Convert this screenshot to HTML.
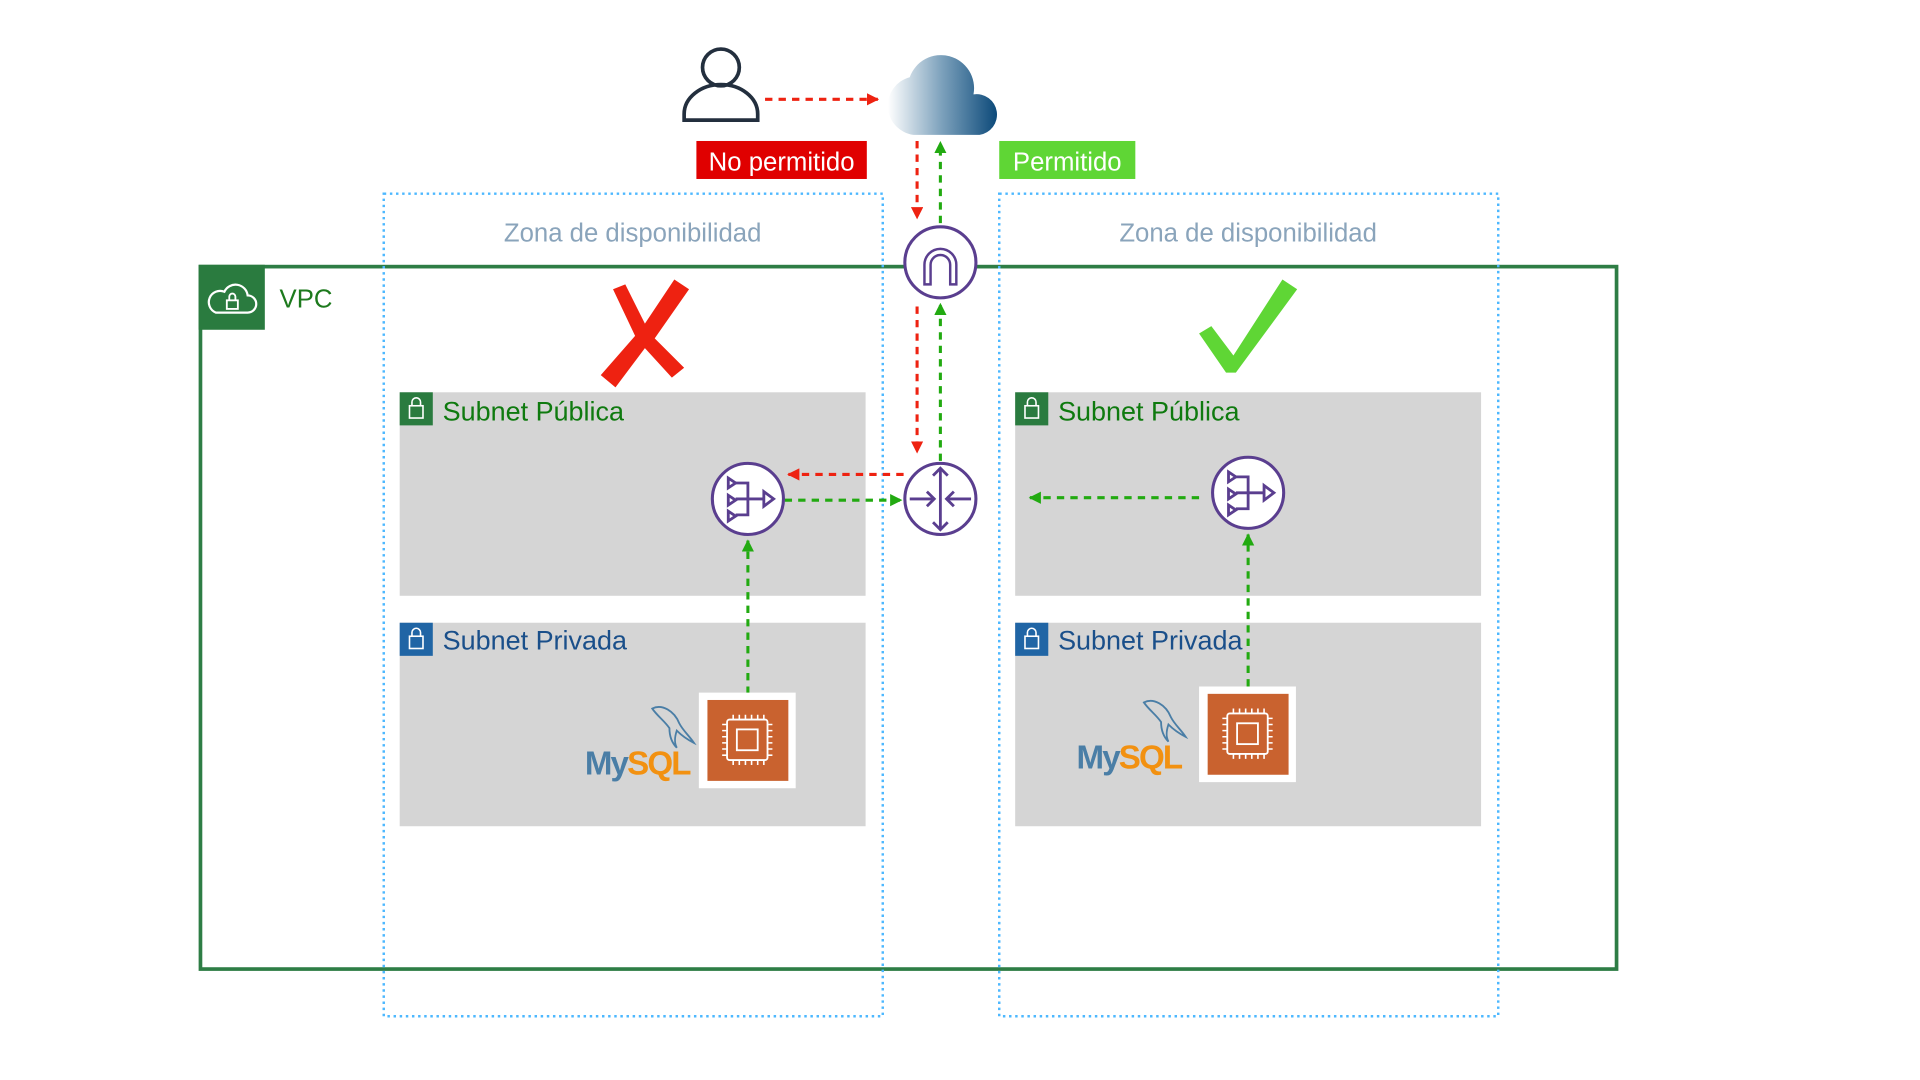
<!DOCTYPE html>
<html><head><meta charset="utf-8"><style>
html,body{margin:0;padding:0;background:#fff;width:1920px;height:1080px;overflow:hidden}
svg{display:block}
text{font-family:"Liberation Sans",sans-serif}
</style></head><body>
<svg width="1920" height="1080" viewBox="0 0 1566 881" preserveAspectRatio="none" xmlns="http://www.w3.org/2000/svg">
<defs>
<linearGradient id="cg" x1="0" x2="1" y1="0" y2="0">
<stop offset="0" stop-color="#ffffff"/><stop offset="0.5" stop-color="#7ba0bb"/><stop offset="1" stop-color="#0d4a7a"/>
</linearGradient>
<marker id="ar" viewBox="0 0 10 10" refX="9" refY="5" markerWidth="4" markerHeight="4" orient="auto"><path d="M0,0L10,5L0,10z" fill="#ee2211"/></marker>
<marker id="ag" viewBox="0 0 10 10" refX="9" refY="5" markerWidth="4" markerHeight="4" orient="auto"><path d="M0,0L10,5L0,10z" fill="#22aa11"/></marker>
</defs>

<rect x="326" y="320" width="380" height="166" fill="#d5d5d5"/>
<rect x="326" y="508" width="380" height="166" fill="#d5d5d5"/>
<rect x="828" y="320" width="380" height="166" fill="#d5d5d5"/>
<rect x="828" y="508" width="380" height="166" fill="#d5d5d5"/>

<rect x="163.5" y="217.5" width="1155" height="573" fill="none" stroke="#2e7d45" stroke-width="3"/>
<rect x="162" y="216" width="54" height="53" fill="#2a7b3f"/>
<path d="M176,255 h26 a7,7 0 0 0 0,-14 a10,10 0 0 0 -19,-3 a8,8 0 0 0 -7,17z" fill="none" stroke="#fff" stroke-width="1.8"/>
<rect x="185" y="245" width="9" height="7" fill="none" stroke="#fff" stroke-width="1.5"/>
<path d="M187,245 v-3 a2.5,2.5 0 0 1 5,0 v3" fill="none" stroke="#fff" stroke-width="1.5"/>
<text x="228" y="251" font-size="21" fill="#1d7a1d">VPC</text>

<rect x="313" y="158" width="407" height="671" fill="none" stroke="#4db8ff" stroke-width="2" stroke-dasharray="2,3"/>
<rect x="815" y="158" width="407" height="671" fill="none" stroke="#4db8ff" stroke-width="2" stroke-dasharray="2,3"/>
<text x="516" y="197" font-size="21" fill="#8aa4bb" text-anchor="middle">Zona de disponibilidad</text>
<text x="1018" y="197" font-size="21" fill="#8aa4bb" text-anchor="middle">Zona de disponibilidad</text>

<g>
<rect x="326" y="320" width="27" height="27" fill="#2a7b3f"/>
<rect x="334" y="331" width="11" height="10" fill="none" stroke="#fff" stroke-width="1.3"/>
<path d="M336,331 v-3 a3.5,3.5 0 0 1 7,0 v3" fill="none" stroke="#fff" stroke-width="1.3"/>
<text x="361" y="343" font-size="22" fill="#0f7a0f">Subnet Pública</text>
<rect x="326" y="508" width="27" height="27" fill="#2065a5"/>
<rect x="334" y="519" width="11" height="10" fill="none" stroke="#fff" stroke-width="1.3"/>
<path d="M336,519 v-3 a3.5,3.5 0 0 1 7,0 v3" fill="none" stroke="#fff" stroke-width="1.3"/>
<text x="361" y="530" font-size="22" fill="#1a4f8a">Subnet Privada</text>
</g>
<g transform="translate(502,0)">
<rect x="326" y="320" width="27" height="27" fill="#2a7b3f"/>
<rect x="334" y="331" width="11" height="10" fill="none" stroke="#fff" stroke-width="1.3"/>
<path d="M336,331 v-3 a3.5,3.5 0 0 1 7,0 v3" fill="none" stroke="#fff" stroke-width="1.3"/>
<text x="361" y="343" font-size="22" fill="#0f7a0f">Subnet Pública</text>
<rect x="326" y="508" width="27" height="27" fill="#2065a5"/>
<rect x="334" y="519" width="11" height="10" fill="none" stroke="#fff" stroke-width="1.3"/>
<path d="M336,519 v-3 a3.5,3.5 0 0 1 7,0 v3" fill="none" stroke="#fff" stroke-width="1.3"/>
<text x="361" y="530" font-size="22" fill="#1a4f8a">Subnet Privada</text>
</g>

<circle cx="588" cy="55" r="15" fill="none" stroke="#232f3e" stroke-width="3"/>
<path d="M558,98 v-5 a30,24 0 0 1 60,0 v5 z" fill="none" stroke="#232f3e" stroke-width="3"/>
<path d="M745,110 a24,24 0 0 1 -3,-47 a27,27 0 0 1 52,14 a16,16 0 0 1 5,33 z" fill="url(#cg)"/>

<rect x="568" y="115" width="139" height="31" fill="#e00000"/>
<text x="637.5" y="139" font-size="21" fill="#fff" text-anchor="middle">No permitido</text>
<rect x="815" y="115" width="111" height="31" fill="#5fd635"/>
<text x="870.5" y="139" font-size="21" fill="#fff" text-anchor="middle">Permitido</text>

<g fill="none" stroke-width="2.5" stroke-dasharray="6,5">
<line x1="624" y1="81" x2="716" y2="81" stroke="#ee2211" marker-end="url(#ar)"/>
<line x1="748" y1="115" x2="748" y2="178" stroke="#ee2211" marker-end="url(#ar)"/>
<line x1="767" y1="182" x2="767" y2="116" stroke="#22aa11" marker-end="url(#ag)"/>
<line x1="748" y1="250" x2="748" y2="369" stroke="#ee2211" marker-end="url(#ar)"/>
<line x1="767" y1="376" x2="767" y2="248" stroke="#22aa11" marker-end="url(#ag)"/>
<line x1="737" y1="387" x2="643" y2="387" stroke="#ee2211" marker-end="url(#ar)"/>
<line x1="640" y1="408" x2="735" y2="408" stroke="#22aa11" marker-end="url(#ag)"/>
<line x1="610" y1="566" x2="610" y2="441" stroke="#22aa11" marker-end="url(#ag)"/>
<line x1="978" y1="406" x2="840" y2="406" stroke="#22aa11" marker-end="url(#ag)"/>
<line x1="1018" y1="560" x2="1018" y2="436" stroke="#22aa11" marker-end="url(#ag)"/>
</g>

<circle cx="767" cy="214" r="29" fill="#fff" stroke="#5a3e8f" stroke-width="2.5"/>
<path d="M754,232 v-16 a13,13 0 0 1 26,0 v16 h-5 v-16 a8,8 0 0 0 -16,0 v16 z" fill="none" stroke="#5a3e8f" stroke-width="2"/>
<circle cx="767" cy="407" r="29" fill="#fff" stroke="#5a3e8f" stroke-width="2.5"/>
<g stroke="#5a3e8f" stroke-width="2.3" fill="none">
<line x1="767" y1="382" x2="767" y2="432"/>
<path d="M761,388 l6,-6 l6,6 M761,426 l6,6 l6,-6"/>
<line x1="742" y1="407" x2="762" y2="407"/><path d="M756,401 l6,6 l-6,6"/>
<line x1="792" y1="407" x2="772" y2="407"/><path d="M778,401 l-6,6 l6,6"/>
</g>
<g id="nat">
<circle cx="610" cy="407" r="29" fill="#fff" stroke="#5a3e8f" stroke-width="2.5"/>
<g stroke="#5a3e8f" stroke-width="2.3" fill="none">
<path d="M594,390 l6,4 l-6,4z M594,404 l6,4 l-6,4z M594,417 l6,4 l-6,4z"/>
<path d="M600,394 h10 v26 h-10 M600,407 h23"/>
<path d="M623,401 l8,6 l-8,6z"/>
</g>
</g>
<use href="#nat" transform="translate(408,-5)"/>

<g id="ec2">
<rect x="570" y="565" width="79" height="78" fill="#fff"/>
<rect x="577" y="571" width="66" height="66" fill="#c9622f"/>
<rect x="593" y="587" width="33" height="33" fill="none" stroke="#fff" stroke-width="1.5" rx="2"/>
<rect x="601" y="595" width="17" height="17" fill="none" stroke="#fff" stroke-width="1.5"/>
<path d="M598,587v-4M603,587v-4M608,587v-4M613,587v-4M618,587v-4M623,587v-4M598,624v-4M603,624v-4M608,624v-4M613,624v-4M618,624v-4M623,624v-4M589,591h4M589,596h4M589,601h4M589,606h4M589,611h4M589,616h4M626,591h4M626,596h4M626,601h4M626,606h4M626,611h4M626,616h4" stroke="#fff" stroke-width="1.3"/>
</g>
<use href="#ec2" transform="translate(408,-5)"/>

<g id="mysql">
<path d="M532,578 c8,-4 18,2 22,12 c3,6 8,10 12,16 c-6,-3 -10,-6 -14,-10 c-2,6 -2,10 0,14 c-4,-4 -6,-10 -6,-16 c-4,-6 -10,-10 -14,-16z" fill="none" stroke="#4a7ea6" stroke-width="1.5"/>
<text x="477" y="632" font-size="27" fill="#4a7ea6" font-weight="bold" letter-spacing="-1.5">My<tspan fill="#f29111">SQL</tspan></text>
</g>
<use href="#mysql" transform="translate(401,-5)"/>

<path d="M500,236 l10,-4 l16,32 l24,-36 l12,8 l-28,40 l24,24 l-10,8 l-22,-24 l-24,32 l-12,-10 l28,-32 z" fill="#ee2211"/>
<path d="M978,272 l10,-6 l18,24 l40,-62 l12,8 l-50,68 l-8,0 z" fill="#5fd635"/>
</svg>
</body></html>
